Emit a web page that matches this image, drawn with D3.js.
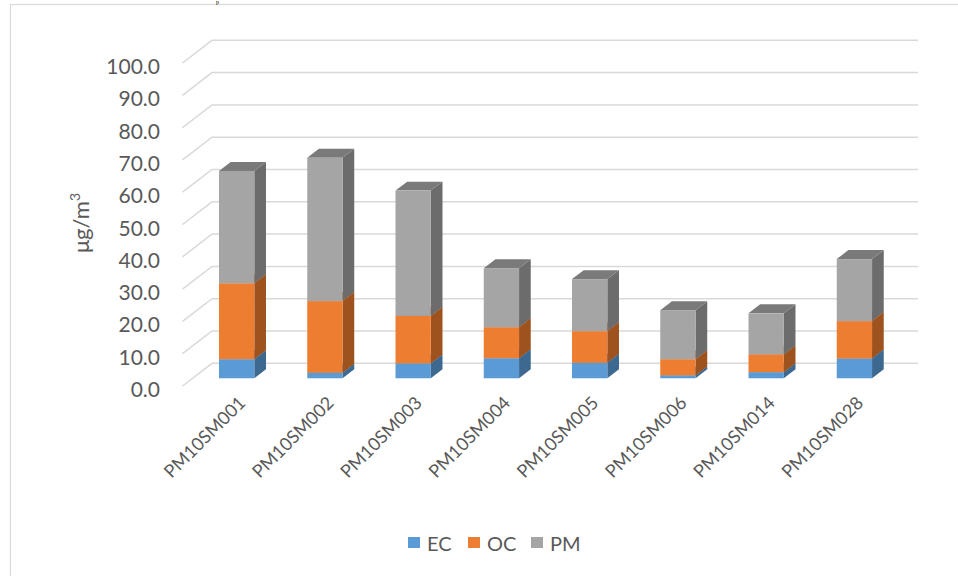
<!DOCTYPE html>
<html>
<head>
<meta charset="utf-8">
<script src="https://cdn.jsdelivr.net/npm/d3@7"></script>
<style>
  html, body { margin: 0; padding: 0; background: #fff; }
  svg { display: block; }
</style>
</head>
<body>
<svg id="chart" width="958" height="576"></svg>
<script>
const categories = ["PM10SM001","PM10SM002","PM10SM003","PM10SM004","PM10SM005","PM10SM006","PM10SM014","PM10SM028"];
const seriesNames = ["EC","OC","PM"];
const ecValues = [5.9, 1.7, 4.6, 6.2, 4.8, 0.9, 1.9, 6.1];
const ocValues = [23.5, 22.2, 14.7, 9.6, 9.8, 5.0, 5.5, 11.6];
const pmValues = [34.8, 44.4, 38.8, 18.3, 16.1, 15.2, 12.7, 19.2];
const yTicks = [0, 10, 20, 30, 40, 50, 60, 70, 80, 90, 100];
const yTitle = "μg/m";

const colors = {
  EC: { front: "#5B9BD5", side: "#3D6890", top: "#4A82B8" },
  OC: { front: "#ED7D31", side: "#9E521E", top: "#C2631F" },
  PM: { front: "#A5A5A5", side: "#6C6C6C", top: "#7A7A7A" }
};

const svg = d3.select("#chart");
const font = "Lato, 'Open Sans', 'DejaVu Sans', sans-serif";

// outer chart border (extends past right/bottom of the picture)
svg.append("rect").attr("x", 10.5).attr("y", 4.5).attr("width", 960).attr("height", 600)
  .attr("fill", "none").attr("stroke", "#d9d9d9").attr("stroke-width", 1.2);

// caption fragment at the very top
svg.append("text").attr("x", 216).attr("y", 3.5).attr("font-family", "'Liberation Serif', serif")
  .attr("font-size", 6).attr("fill", "#000").text("p");

// back wall scales
const x = d3.scaleBand().domain(categories).range([212, 918]).paddingInner(0.6).paddingOuter(0.3);
const y = d3.scaleLinear().domain([0, 100]).range([363.3, 40.3]);

// oblique depth: vector from back wall to front edge of floor
const DX = -29.5, DY = 22.7;
const fFront = 0.66, fBack = 0.264;

// gridlines: back wall horizontal + left wall diagonal
const grid = svg.append("g").attr("stroke", "#d9d9d9").attr("stroke-width", 1.5).attr("fill", "none");
yTicks.forEach(t => {
  const yb = y(t);
  grid.append("path").attr("d", `M${212 + DX},${yb + DY}L212,${yb}L918,${yb}`);
});

// y tick labels
svg.append("g").selectAll("text").data(yTicks).join("text")
  .attr("x", 160).attr("y", d => y(d) + DY + 2.5)
  .attr("text-anchor", "end").attr("dominant-baseline", "central")
  .attr("font-family", font).attr("font-size", 21).attr("fill", "#595959")
  .text(d => d3.format(".1f")(d));

// y title
const yt = svg.append("text").attr("transform", "translate(89,223) rotate(-90)")
  .attr("text-anchor", "middle").attr("font-family", font).attr("font-size", 22).attr("fill", "#595959");
yt.append("tspan").text(yTitle);
yt.append("tspan").attr("font-size", 14).attr("dy", -9).text("3");

// stacked data
const rows = categories.map((c, i) => ({ cat: c, EC: ecValues[i], OC: ocValues[i], PM: pmValues[i] }));
const stack = d3.stack().keys(seriesNames)(rows);

const bx = DX * fFront, by = DY * fFront;            // shift of bar front face from back wall
const ddx = DX * (fBack - fFront), ddy = DY * (fBack - fFront); // bar depth vector (front -> back)
const bw = x.bandwidth();

const bars = svg.append("g");
categories.forEach((c, i) => {
  seriesNames.forEach((s, si) => {
    const seg = stack[si][i];
    const x0 = x(c) + bx, x1 = x0 + bw;
    const yTop = y(seg[1]) + by, yBot = y(seg[0]) + by;
    const col = colors[s];
    const g = bars.append("g");
    g.append("path").attr("fill", col.side)
      .attr("d", `M${x1},${yBot}L${x1 + ddx},${yBot + ddy}L${x1 + ddx},${yTop + ddy}L${x1},${yTop}Z`);
    g.append("path").attr("fill", col.top)
      .attr("d", `M${x0},${yTop}L${x1},${yTop}L${x1 + ddx},${yTop + ddy}L${x0 + ddx},${yTop + ddy}Z`);
    g.append("rect").attr("x", x0).attr("y", yTop).attr("width", bw).attr("height", Math.max(0, yBot - yTop))
      .attr("fill", col.front);
  });
});

// x labels
svg.append("g").selectAll("text").data(categories).join("text")
  .attr("transform", d => `translate(${x(d) + bx + bw / 2 + 10},${404}) rotate(-45)`)
  .attr("text-anchor", "end")
  .attr("font-family", font).attr("font-size", 18).attr("fill", "#595959")
  .text(d => d);

// legend
const legendX = [408, 468, 531];
const leg = svg.append("g");
seriesNames.forEach((s, i) => {
  leg.append("rect").attr("x", legendX[i]).attr("y", 537).attr("width", 12).attr("height", 11).attr("fill", colors[s].front);
  leg.append("text").attr("x", legendX[i] + 19).attr("y", 543).attr("dominant-baseline", "central")
    .attr("font-family", font).attr("font-size", 20).attr("fill", "#595959").text(s);
});
</script>
</body>
</html>
